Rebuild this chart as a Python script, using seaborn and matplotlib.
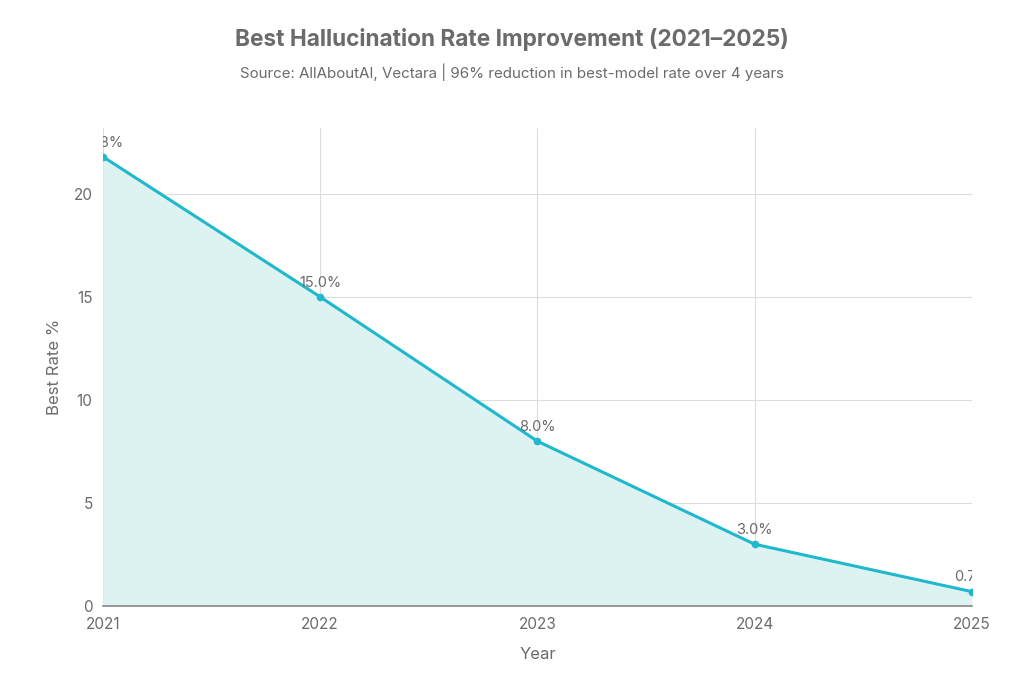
import matplotlib
matplotlib.use("Agg")
import matplotlib.pyplot as plt
import seaborn as sns
import pandas as pd

# ---------- DATA ----------
years = [2021, 2022, 2023, 2024, 2025]
best_rate = [21.8, 15.0, 8.0, 3.0, 0.7]
rate_labels = ["21.8%", "15.0%", "8.0%", "3.0%", "0.7%"]
y_ticks = [0, 5, 10, 15, 20]

df = pd.DataFrame({"Year": years, "Best Rate %": best_rate})

line_color = "#1FB8CD"
fill_color = "#DDF3F1"
text_grey = "#6b6b6b"
grid_grey = "#dcdcdc"

sns.set_theme(style="white")
plt.rcParams["font.family"] = ["Inter", "DejaVu Sans"]

fig = plt.figure(figsize=(10.24, 6.83), dpi=100)
ax = fig.add_axes([0.1006, 0.1127, 0.8484, 0.70])

# shaded area under the curve, then the line with markers
ax.fill_between(df["Year"], df["Best Rate %"], 0, color=fill_color, zorder=1, linewidth=0)
sns.lineplot(data=df, x="Year", y="Best Rate %", ax=ax, color=line_color,
             linewidth=2.2, marker="o", markersize=5.5, markeredgewidth=0, zorder=3)

# value labels (clipped at the plot edges like the original)
for x, y, lab in zip(years, best_rate, rate_labels):
    ax.text(x, y + 0.35, lab, ha="center", va="bottom", fontsize=10.5,
            color=text_grey, clip_on=True, zorder=4)

ax.set_xlim(2021, 2025)
ax.set_ylim(0, 23.2)
ax.set_xticks(years)
ax.set_yticks(y_ticks)
ax.tick_params(axis="both", labelsize=11, colors=text_grey, length=4, width=0.8,
               color=grid_grey)
ax.tick_params(axis="x", pad=4)

ax.grid(True, color=grid_grey, linewidth=0.8, zorder=0)
ax.set_axisbelow(True)
for side in ["top", "right", "left"]:
    ax.spines[side].set_visible(False)
ax.spines["bottom"].set_color("#8a8a8a")
ax.spines["bottom"].set_linewidth(1.2)
ax.spines["bottom"].set_zorder(5)

ax.set_xlabel("Year", fontsize=12, color=text_grey, labelpad=11)
ax.set_ylabel("Best Rate %", fontsize=12, color=text_grey, labelpad=8)

fig.text(0.5, 0.942, "Best Hallucination Rate Improvement (2021\u20132025)",
         ha="center", va="center", fontsize=16.3, fontweight="bold", color=text_grey)
fig.text(0.5, 0.894, "Source: AllAboutAI, Vectara | 96% reduction in best-model rate over 4 years",
         ha="center", va="center", fontsize=10.9, color=text_grey)

fig.savefig("out.png", dpi=100)
